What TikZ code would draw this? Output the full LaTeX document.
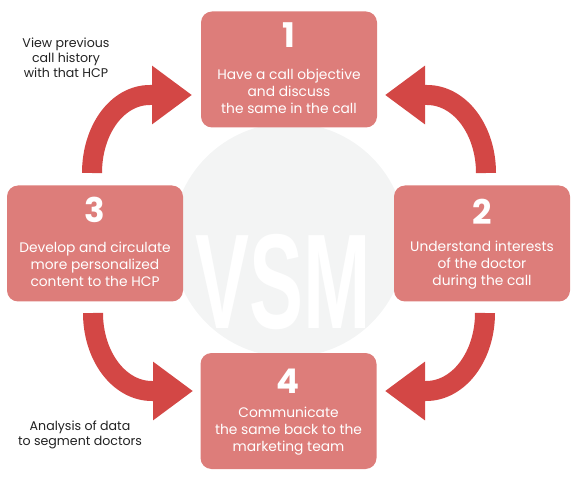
\documentclass[tikz,border=0pt]{standalone}
\usepackage{fontspec}
\setmainfont{Poppins}
\newfontfamily\wmfont{Liberation Sans}
\usetikzlibrary{arrows.meta}
\definecolor{boxpink}{RGB}{221,125,122}
\definecolor{arrowred}{RGB}{211,71,69}
\definecolor{wmgray}{RGB}{243,244,244}
\definecolor{labelgray}{RGB}{34,34,34}
\begin{document}
\begin{tikzpicture}[x=1pt,y=-1pt,
  stepbox/.style={fill=boxpink, rounded corners=11pt, minimum width=176pt, minimum height=116pt, inner sep=0pt},
  stepnum/.style={text=white, font=\fontsize{34}{34}\selectfont\bfseries, inner sep=0pt},
  steptext/.style={text=white, align=center, font=\fontsize{13.8}{17}\selectfont, inner sep=0pt},
  sidetext/.style={text=labelgray, align=center, font=\fontsize{12.6}{15}\selectfont, inner sep=0pt},
  turn/.style={draw=arrowred, line width=20pt, -{Triangle[length=40pt,width=56pt]}}]
\useasboundingbox (0,0) rectangle (584,481);
% faint watermark behind the cycle
\fill[wmgray] (289,240) circle (117);
\node[text=white, font=\wmfont\bfseries\fontsize{135}{135}\selectfont, xscale=0.6, inner sep=0pt] (vsm) at (283,282) {VSM};
% the four steps
\node[stepbox] (b1) at (289,69.5) {};
\node[stepbox] (b2) at (482,243.5) {};
\node[stepbox] (b3) at (95,243.5) {};
\node[stepbox] (b4) at (288.5,411) {};
\node[stepnum] (n1) at (289,35) {1};
\node[stepnum] (n2) at (482,212) {2};
\node[stepnum] (n3) at (95,210) {3};
\node[stepnum] (n4) at (288.5,381) {4};
\node[steptext] (t1) at (289,91) {Have a call objective\\and discuss\\the same in the call};
\node[steptext] (t2) at (482,265) {Understand interests\\of the doctor\\during the call};
\node[steptext] (t3) at (95,264) {Develop and circulate\\more personalized\\content to the HCP};
\node[steptext] (t4) at (288.5,431) {Communicate\\the same back to the\\marketing team};
% notes at the side
\node[sidetext] (view) at (66,58) {View previous\\call history\\with that HCP};
\node[sidetext] (data) at (80,435) {Analysis of data\\to segment doctors};
% curved arrows
\coordinate (a31) at (92,173);  \coordinate (a32) at (150,95);  \coordinate (a33) at (192,95);
\coordinate (a21) at (486,173); \coordinate (a22) at (427,95);  \coordinate (a23) at (385,95);
\coordinate (a34) at (93,313);  \coordinate (a35) at (152,391); \coordinate (a36) at (193,391);
\coordinate (a24) at (485,313); \coordinate (a25) at (426,391); \coordinate (a26) at (385,391);
\draw[turn] (a31) .. controls +(0,-43) and +(-33,0) .. (a32) -- (a33);
\draw[turn] (a21) .. controls +(0,-43) and +(33,0) .. (a22) -- (a23);
\draw[turn] (a34) .. controls +(0,43) and +(-33,0) .. (a35) -- (a36);
\draw[turn] (a24) .. controls +(0,43) and +(33,0) .. (a25) -- (a26);
\end{tikzpicture}
\end{document}
